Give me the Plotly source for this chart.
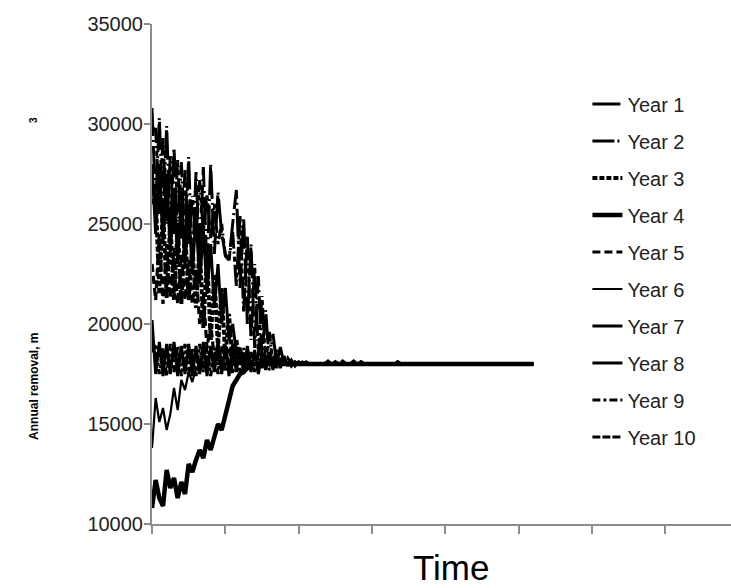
import plotly.graph_objects as go

# Time index (each step one period); the flat tail ends at step 104
time_steps = list(range(85)) + [104]

tail = [18000] * 40 + [18000]

year1 = [30800, 25900, 30300, 25400, 29900, 24500, 28800, 24300, 28100, 23900,
         28350, 22500, 27600, 23400, 27850, 22600, 28000, 23500, 26600, 24500,
         23500, 23200, 25000, 26700, 21800, 25300, 20000, 24000, 18800, 22400,
         18300, 20700, 18000, 19500, 18000, 18850, 18000, 18300, 18000, 18100,
         18000, 18000, 18000, 18000, 18000] + tail
year2 = [29500, 29800, 25500, 29300, 25000, 28400, 24500, 28200, 24200, 27700,
         24000, 26400, 24300, 27200, 24550, 26500, 24300, 26000, 24000, 25000,
         23400, 23200, 24600, 21900, 25400, 20600, 24400, 19200, 23000, 18400,
         21400, 18000, 19600, 18000, 18700, 18000, 18200, 18000, 18000, 18000,
         18000, 18000, 18000, 18000, 18000] + tail
year3 = [26000, 26500, 21500, 26000, 21300, 25200, 21200, 25000, 21000, 24800,
         21200, 24000, 20800, 24000, 19800, 23500, 19200, 22500, 18800, 21800,
         18300, 20500, 18000, 19200, 18000, 18400, 18000, 18000, 18000, 18000,
         18000, 18000, 18000, 18000, 18000, 18000, 18000, 18000, 18000, 18000,
         18000, 18000, 18000, 18000, 18000] + tail
year4 = [10800, 12200, 11300, 10900, 12700, 11800, 12300, 11300, 12100, 11500,
         13000, 12600, 13200, 13700, 13300, 14200, 13700, 14400, 15000, 14700,
         15500, 16100, 16900, 17200, 17500, 17600, 17800, 17900, 18000, 18000,
         18000, 18000, 18000, 18000, 18000, 18000, 18000, 18000, 18000, 18000,
         18000, 18000, 18000, 18000, 18000] + tail
year5 = [23000, 21200, 24500, 21000, 24000, 21300, 23800, 21000, 23500, 21200,
         23200, 21000, 22800, 20000, 21500, 18800, 20000, 18300, 19000, 18000,
         18000, 18000, 18000, 18000, 18000, 18000, 18000, 18000, 18000, 18000,
         18000, 18000, 18000, 18000, 18000, 18000, 18000, 18000, 18000, 18000,
         18000, 18000, 18000, 18000, 18000] + tail
year6 = [13800, 16300, 15100, 15800, 14700, 15500, 16800, 15700, 17200, 16700,
         17600, 17100, 17800, 17600, 18000, 17900, 18000, 18000, 18000, 18000,
         18000, 18000, 18000, 18000, 18000, 18000, 18000, 18000, 18000, 18000,
         18000, 18000, 18000, 18000, 18000, 18000, 18000, 18000, 18000, 18000,
         18000, 18000, 18000, 18000, 18000] + tail
year7 = [20200, 17500, 19100, 17400, 19000, 17500, 19100, 17400, 18900, 17500,
         19000, 17400, 18900, 17500, 19100, 17400, 18900, 17600, 19000, 17500,
         18900, 17400, 19000, 17600, 18800, 17500, 18900, 17600, 18700, 17500,
         18600, 17700, 18500, 17700, 18500, 17800, 18400, 17900, 18200, 17900,
         18100, 18000, 18100, 18000, 18000] + tail
year8 = [28000, 24500, 28000, 24000, 27500, 23500, 26800, 23000, 26500, 22800,
         26000, 22500, 25500, 22000, 24800, 21500, 24000, 20800, 23000, 20000,
         21800, 19200, 20000, 18600, 18800, 18200, 18300, 18000, 18000, 18000,
         18000, 18000, 18000, 18000, 18000, 18000, 18000, 18000, 18000, 18000,
         18000, 18000, 18000, 18000, 18000] + tail
year9 = [18600, 19000, 17500, 18800, 17400, 19000, 17600, 18900, 17400, 19000,
         17500, 18800, 17400, 19000, 17600, 18900, 17400, 18800, 17500, 18900,
         17600, 18800, 17500, 18700, 17600, 18800, 17700, 18600, 17600, 18500,
         17800, 18400, 17700, 18400, 17800, 18300, 17900, 18200, 17900, 18100,
         18000, 18100, 18000, 18000, 18000] + tail
year10 = [19200, 18200, 18700, 17900, 18600, 18000, 18500, 18100, 18700, 17900,
          18500, 18100, 18600, 18000, 18400, 18200, 18600, 17900, 18400, 18100,
          18500, 18000, 18400, 18100, 18300, 18000, 18400, 18100, 18300, 18000,
          18200, 18100, 18250, 18000, 18200, 18050, 18150, 18000, 18150, 18000,
          18100, 18000, 18100, 18000, 18000,
          18000, 18000, 18000, 18150, 18000, 18120, 18000, 18150, 18000, 18000,
          18150, 18000, 18120, 18000, 18000, 18000, 18000, 18000, 18000, 18000,
          18000, 18000, 18120, 18000, 18000, 18000, 18000, 18000, 18000, 18000,
          18000, 18000, 18000, 18000, 18000, 18000, 18000, 18000, 18000, 18000,
          18000]

names = ["Year 1", "Year 2", "Year 3", "Year 4", "Year 5",
         "Year 6", "Year 7", "Year 8", "Year 9", "Year 10"]
series = [year1, year2, year3, year4, year5, year6, year7, year8, year9, year10]
styles = [
    dict(width=3, dash="28px,4px,2px,4px"),
    dict(width=3, dash="22px,3px,2px,3px,5px,3px"),
    dict(width=4, dash="5px,2px"),
    dict(width=4.5, dash="solid"),
    dict(width=3.2, dash="8px,4px"),
    dict(width=2.2, dash="solid"),
    dict(width=3, dash="solid"),
    dict(width=3, dash="solid"),
    dict(width=3.2, dash="8px,3px,3px,3px"),
    dict(width=3, dash="8px,2px"),
]

fig = go.Figure()
for i, (nm, ys, st) in enumerate(zip(names, series, styles)):
    fig.add_trace(go.Scatter(
        x=time_steps, y=ys, mode="lines", name=nm, legendgroup=f"g{i}",
        line=dict(color="black", width=st["width"], dash=st["dash"]),
    ))

axis_grey = "#8c8c8c"
font_family = "Liberation Sans, Arial, sans-serif"

fig.update_layout(
    width=731, height=588,
    margin=dict(l=152, r=0, t=24, b=64),
    paper_bgcolor="white", plot_bgcolor="white",
    font=dict(family=font_family, color="#222222"),
    showlegend=True,
    legend=dict(
        x=0.752, y=0.879, xanchor="left", yanchor="top",
        traceorder="grouped", tracegroupgap=8,
        font=dict(size=20, color="#222222", family=font_family),
        bgcolor="rgba(0,0,0,0)",
    ),
    xaxis=dict(
        range=[0, 157.9], tick0=0, dtick=20, showticklabels=False,
        ticks="outside", ticklen=8, tickwidth=2, tickcolor=axis_grey,
        showline=True, linecolor=axis_grey, linewidth=2,
        showgrid=False, zeroline=False,
    ),
    yaxis=dict(
        range=[10000, 35000], tick0=10000, dtick=5000, tickformat="d",
        ticks="outside", ticklen=6, tickwidth=2, tickcolor=axis_grey,
        ticklabelstandoff=-3,
        showline=True, linecolor=axis_grey, linewidth=2,
        showgrid=False, zeroline=False,
        tickfont=dict(size=20, color="#222222", family=font_family),
    ),
    annotations=[
        dict(text="Time", xref="paper", yref="paper", x=0.516, y=-0.087,
             xanchor="center", yanchor="middle", showarrow=False,
             font=dict(size=35, color="black", family=font_family)),
        dict(text="<b>Annual removal, m</b>", xref="paper", yref="paper",
             x=-0.204, y=0.276, xanchor="center", yanchor="middle",
             textangle=-90, showarrow=False,
             font=dict(size=12, color="black", family=font_family)),
        dict(text="<b>3</b>", xref="paper", yref="paper",
             x=-0.204, y=0.808, xanchor="center", yanchor="middle",
             textangle=-90, showarrow=False,
             font=dict(size=10, color="black", family=font_family)),
    ],
)

# remove the default page margin so the 731x588 figure fills the window
fig.write_html("out.html",
               config={"displayModeBar": False},
               post_script="document.body.style.margin='0px';"
                           "document.body.style.overflow='hidden';")
